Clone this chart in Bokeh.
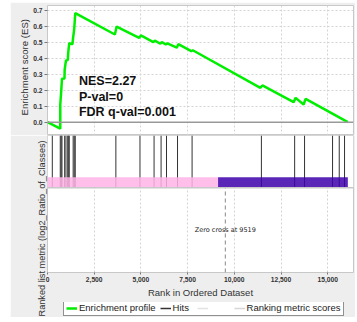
from bokeh.plotting import figure
from bokeh.layouts import column
from bokeh.models import (Range1d, FixedTicker, Span, Label, Legend, LegendItem, Title,
                          NumeralTickFormatter, PrintfTickFormatter)
from bokeh.embed import file_html
from bokeh.resources import INLINE

# ---------------- data ----------------
es_rank = [0, 684, 684, 732, 775, 909, 919, 989, 1085, 1112, 1165, 1336, 1374, 1432,
           1486, 3608, 3699, 4906, 4997, 5665, 5745, 6040, 6120, 6333, 6414, 6921,
           7002, 7696, 7777, 11395, 11502, 13175, 13282, 13709, 13816, 16077]
es_score = [0.0, -0.041, 0.111, 0.19, 0.273, 0.275, 0.33, 0.388, 0.39, 0.44, 0.497,
            0.49, 0.534, 0.587, 0.685, 0.551, 0.601, 0.530, 0.545, 0.503, 0.513,
            0.493, 0.503, 0.488, 0.496, 0.468, 0.490, 0.446, 0.452, 0.216, 0.231,
            0.126, 0.153, 0.111, 0.147, 0.0]
hit_ranks = [257, 684, 732, 775, 919, 989, 1085, 1112, 1165, 1374, 1432, 1486, 3660,
             4950, 5705, 6080, 6370, 6960, 7740, 11450, 13230, 13760, 15259, 15617, 15900]
n_genes = 16077
pos_end = 9130
zero_cross = 9519
x_ticks = [0, 2500, 5000, 7500, 10000, 12500, 15000]
es_ticks = [0.0, 0.1, 0.2, 0.3, 0.4, 0.5, 0.6, 0.7]
stats_text = ["NES=2.27", "P-val=0", "FDR q-val=0.001"]
legend_labels = ["Enrichment profile", "Hits", " ", "Ranking metric scores"]

# ---------------- style ----------------
BG = "#eeeeee"
GREEN = "#00ee00"
GRID = "#d4d4d4"
FONT = "Liberation Sans"
FW = 306
X_END = 16380
BAR_BOTTOM = 0.618
BAR_TOP = 0.696
NAN = float("nan")

xr = Range1d(0, X_END)

# ---------------- enrichment score panel ----------------
pA = figure(frame_width=FW, frame_height=130, x_range=xr,
            y_range=Range1d(-0.0836, 0.7333), output_backend="svg",
            toolbar_location=None, min_border_left=37, min_border_right=2,
            min_border_top=3, min_border_bottom=0, border_fill_color=BG,
            background_fill_color="white", outline_line_color="#c8c8c8")
pA.xaxis.visible = False
pA.xgrid.ticker = FixedTicker(ticks=x_ticks)
for g in (pA.xgrid, pA.ygrid):
    g.grid_line_color = GRID
    g.grid_line_dash = "2 2"
ya = pA.yaxis[0]
ya.ticker = FixedTicker(ticks=es_ticks)
ya.formatter = PrintfTickFormatter(format="%.1f")
ya.axis_line_color = None
ya.major_tick_out = 3
ya.major_tick_in = 0
ya.major_tick_line_color = "#777777"
ya.minor_tick_line_color = None
ya.major_label_text_font = FONT
ya.major_label_text_font_style = "bold"
ya.major_label_text_font_size = "6.7px"
ya.major_label_text_color = "#333333"
ya.major_label_standoff = 2

pA.add_layout(Title(text="Enrichment score (ES)", align="left", offset=20, standoff=0,
                    text_font=FONT, text_font_style="normal", text_font_size="9.6px",
                    text_color="#333333", vertical_align="middle"), "left")

pA.add_layout(Span(location=0, dimension="width", line_color="#999999", line_width=1.5))
pA.line(es_rank, es_score, line_color=GREEN, line_width=2.5)

for txt, yy in zip(stats_text, [0.256, 0.157, 0.063]):
    pA.add_layout(Label(x=1684, y=yy, text=txt, text_font=FONT, text_font_style="bold",
                        text_font_size="12.5px", text_baseline="middle",
                        text_color="#111111"))

# ---------------- hits + ranked metric panel ----------------
pB = figure(frame_width=FW, frame_height=137, x_range=xr, y_range=Range1d(0, 1),
            output_backend="svg", toolbar_location=None, min_border_left=37,
            min_border_right=2, min_border_top=0, min_border_bottom=45,
            border_fill_color=BG, background_fill_color="white",
            outline_line_color="#c8c8c8")
pB.yaxis.visible = False
pB.ygrid.visible = False
pB.xgrid.ticker = FixedTicker(ticks=x_ticks)
pB.xgrid.grid_line_color = GRID
pB.xgrid.grid_line_dash = "2 2"

pB.add_layout(Title(text="Ranked list metric (log2_Ratio_of_Classes)", align="left",
                    offset=-44, standoff=0, text_font=FONT, text_font_style="normal",
                    text_font_size="9.2px", text_color="#333333",
                    vertical_align="middle"), "left")

# white backing over the hits strip (hides grid there)
pB.quad(left=[0], right=[X_END], bottom=[BAR_BOTTOM], top=[1], fill_color="white",
        line_color=None)
pB.segment(x0=hit_ranks, x1=hit_ranks, y0=[BAR_BOTTOM] * len(hit_ranks),
           y1=[1] * len(hit_ranks), line_color="#333333", line_width=1)
pB.quad(left=[0, pos_end], right=[pos_end, n_genes], bottom=[BAR_BOTTOM] * 2,
        top=[BAR_TOP] * 2, fill_color=["#ffb4e6", "#3c00aa"], fill_alpha=0.85,
        line_color=None)
pB.add_layout(Span(location=BAR_BOTTOM, dimension="width", line_color="#c8c8c8",
                   line_width=1.5))
pB.segment(x0=[zero_cross], x1=[zero_cross], y0=[0], y1=[BAR_BOTTOM],
           line_color="#888888", line_width=1, line_dash="4 3")
pB.add_layout(Label(x=zero_cross, y=0.307, text="Zero cross at %d" % zero_cross,
                    text_font="DejaVu Sans", text_font_size="6.5px",
                    text_align="center", text_baseline="middle", text_color="#222222"))

xa = pB.xaxis[0]
xa.ticker = FixedTicker(ticks=x_ticks)
xa.formatter = NumeralTickFormatter(format="0,0")
xa.axis_line_color = None
xa.major_tick_out = 2
xa.major_tick_in = 0
xa.major_tick_line_color = "#777777"
xa.minor_tick_line_color = None
xa.major_label_text_font = FONT
xa.major_label_text_font_style = "bold"
xa.major_label_text_font_size = "6.7px"
xa.major_label_text_color = "#333333"
xa.major_label_standoff = 2
xa.axis_label = "Rank in Ordered Dataset"
xa.axis_label_text_font = FONT
xa.axis_label_text_font_style = "normal"
xa.axis_label_text_font_size = "9.5px"
xa.axis_label_text_color = "#333333"
xa.axis_label_standoff = 2

# ---------------- legend strip (transparent, overlaps bottom border of pB) ----------------
pC = figure(frame_width=FW, frame_height=15, x_range=Range1d(0, 1),
            y_range=Range1d(0, 1), output_backend="svg", toolbar_location=None,
            min_border_left=37, min_border_right=2, min_border_top=0,
            min_border_bottom=0, border_fill_alpha=0, background_fill_alpha=0,
            outline_line_color=None, margin=(-15, 0, 0, 0))
pC.axis.visible = False
pC.grid.visible = False
r_es = pC.line(x=[NAN], y=[NAN], line_color=GREEN, line_width=2.5)
r_hit = pC.line(x=[NAN], y=[NAN], line_color="#333333", line_width=1.5)
r_blank = pC.line(x=[NAN], y=[NAN], line_color="#e2e2e2", line_width=1.5)
r_rank = pC.line(x=[NAN], y=[NAN], line_color="#d6d6d6", line_width=1.5)
legend = Legend(items=[LegendItem(label=lab, renderers=[r])
                       for lab, r in zip(legend_labels, [r_es, r_hit, r_blank, r_rank])],
                orientation="horizontal", location=(16, 1),
                border_line_color="#222222", border_line_width=1,
                background_fill_color="white", label_text_font=FONT,
                label_text_font_size="9.5px", label_text_color="#222222",
                glyph_width=11, glyph_height=10, label_height=10, spacing=4,
                padding=2, margin=0, label_standoff=2)
pC.add_layout(legend, "center")

layout = column(pA, pB, pC, spacing=0, margin=(2, 0, 0, 10))
open("out.html", "w").write(file_html(layout, INLINE))
